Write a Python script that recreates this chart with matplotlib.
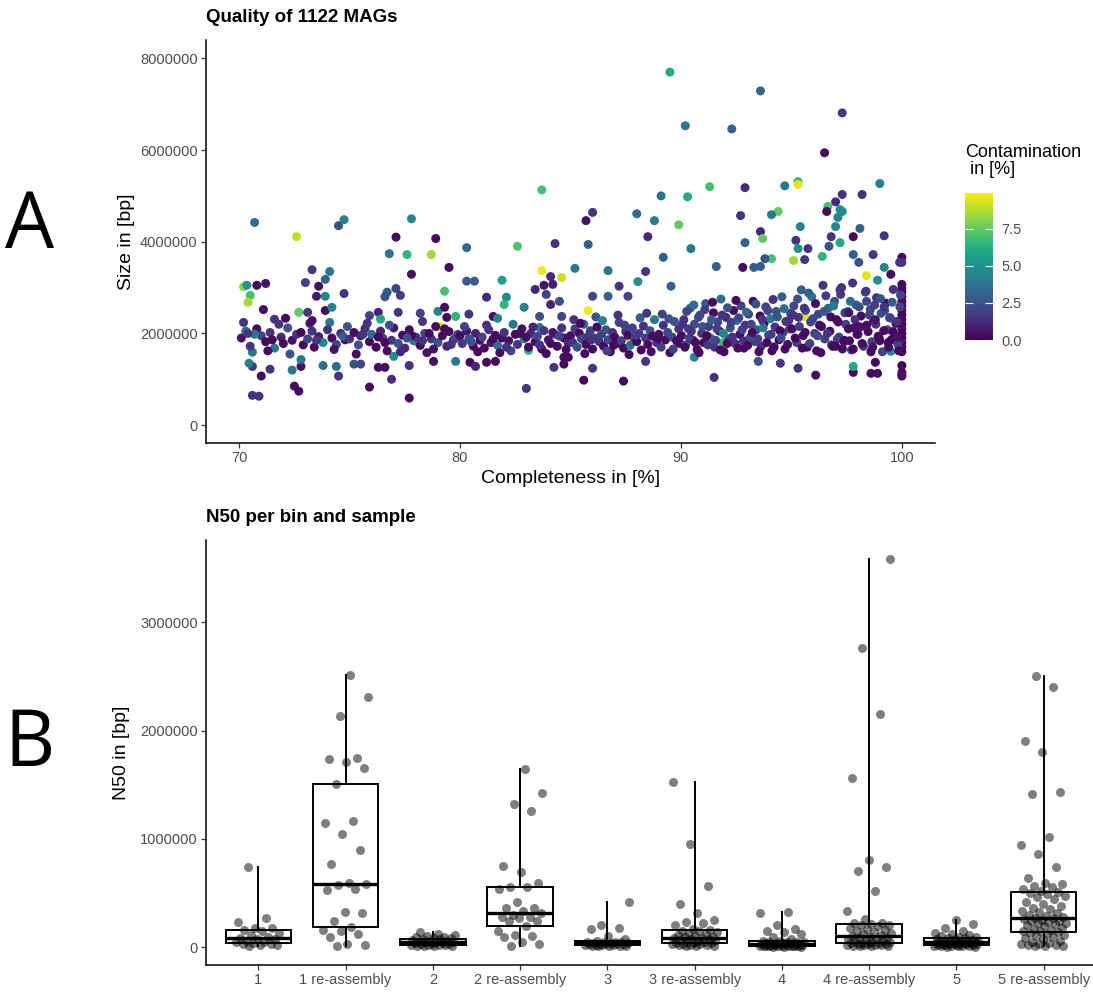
import numpy as np
import matplotlib.pyplot as plt
from matplotlib.ticker import FuncFormatter

plt.rcParams['font.family'] = ['Liberation Sans', 'DejaVu Sans']

# ---------------- panel A: completeness [%], size [Mbp], contamination [%]
# one line per chunk, same order in all three lists
completeness = [
    70.7,72.6,74.5,74.75,77.8,77.1,78.9,83.7,84.3,82.6,80.3,76.8,77.6,78.7,79.5,77.8,83.7,84.6,73.3,74.1,
    73.9,73.0,71.2,70.8,70.2,70.35,70.5,70.4,73.6,73.5,73.9,74.75,77.1,76.7,76.6,77.3,79.3,81.2,82.1,82.0,
    81.9,80.3,80.65,83.4,83.8,84.1,84.2,83.9,84.1,84.5,82.9,71.1,72.7,73.1,73.9,74.2,70.2,71.6,72.1,73.2,
    73.3,74.1,75.9,76.3,76.4,77.2,78.2,78.3,79.0,79.3,79.4,79.8,80.4,81.5,81.7,83.6,83.6,84.6,75.7,79.1,
    70.6,70.9,72.7,72.5,71.0,71.4,72.4,72.8,72.8,70.6,70.45,70.6,73.8,74.4,74.5,75.2,75.5,75.9,76.3,76.6,76.9,77.7,77.7,77.0,78.1,78.8,79.8,80.45,80.7,81.2,81.6,83.0,84.25,84.7,83.1,
    89.5,93.6,90.2,92.3,97.3,96.5,91.3,92.9,94.7,95.3,95.3,99.0,89.1,90.3,97.3,98.2,97.0,96.65,96.6,97.2,
    97.3,94.4,94.1,92.7,85.7,86.0,88.0,88.8,89.9,97.1,97.0,95.4,93.6,93.7,92.9,85.8,88.5,98.1,97.8,99.2,
    90.45,95.2,95.3,95.75,96.8,96.7,97.2,89.2,96.4,94.1,95.1,95.6,91.6,85.2,86.7,88.4,97.8,98.05,98.7,99.2,
    100.0,99.9,100.0,99.5,98.4,98.9,92.8,93.3,93.6,93.8,88.05,87.2,89.55,86.0,86.7,87.6,
    85.6,87.4,91.5,96.1,97.8,97.8,98.6,98.9,98.8,95.3,94.5,93.5,86.0,88.4,84.7,84.9,90.6,91.9,94.2,99.5,85.8,86.9,87.6,95.6,97.6,
    100.0,100.0,100.0,100.0,100.0,100.0,100.0,100.0,100.0,100.0,100.0,100.0,100.0,100.0,100.0,100.0,100.0,100.0,100.0,100.0,
    70.1,70.3,70.5,70.8,71.0,71.2,71.4,71.6,71.9,72.0,72.2,72.4,72.6,72.9,73.1,73.3,73.4,73.6,73.8,74.0,74.2,74.4,74.6,74.8,74.9,70.7,71.3,71.8,72.3,72.8,73.5,74.3,74.7,70.4,71.5,
    75.0,75.2,75.4,75.5,75.7,75.9,76.0,76.2,76.4,76.5,76.7,76.9,77.0,77.2,77.4,77.5,77.7,77.9,78.0,78.2,78.4,78.5,78.7,78.9,79.0,79.2,79.4,79.5,79.7,79.9,75.3,75.8,76.3,76.8,77.3,77.8,78.3,78.8,79.3,79.8,75.6,76.6,77.6,78.6,79.6,
    80.0,80.1,80.3,80.4,80.6,80.7,80.9,81.0,81.1,81.3,81.4,81.6,81.7,81.9,82.0,82.2,82.3,82.5,82.6,82.8,82.9,83.1,83.2,83.4,83.5,83.7,83.8,84.0,84.1,84.3,84.4,84.6,84.7,84.9,80.2,80.8,81.2,81.8,82.4,83.0,83.6,84.2,84.8,80.5,81.5,82.1,82.7,83.3,83.9,84.5,
    85.0,85.1,85.2,85.3,85.4,85.5,85.6,85.7,85.8,85.9,86.0,86.1,86.2,86.3,86.4,86.5,86.6,86.7,86.8,86.9,87.0,87.1,87.2,87.3,87.4,87.5,87.6,87.7,87.8,87.9,88.0,88.1,88.2,88.3,88.4,88.5,88.6,88.7,88.8,88.9,89.0,89.1,89.2,89.3,89.4,89.5,89.6,89.7,89.8,89.9,85.15,85.65,86.15,86.65,87.15,87.65,88.15,88.65,89.15,89.65,85.45,85.95,86.45,86.95,87.45,87.95,88.45,88.95,89.45,89.95,
    90.02,90.13,90.21,90.34,90.42,90.55,90.61,90.73,90.86,90.94,91.03,91.12,91.25,91.33,91.47,91.52,91.66,91.74,91.81,91.95,92.04,92.16,92.23,92.38,92.45,92.53,92.67,92.72,92.85,92.91,93.06,93.14,93.27,93.35,93.42,93.58,93.63,93.76,93.84,93.97,94.05,94.12,94.26,94.31,94.44,94.57,94.62,94.75,94.83,94.96,
    90.07,90.18,90.26,90.39,90.47,90.58,90.66,90.79,90.82,90.98,91.08,91.17,91.22,91.38,91.43,91.57,91.63,91.78,91.86,91.92,92.09,92.11,92.27,92.33,92.49,92.58,92.62,92.77,92.83,92.97,93.02,93.18,93.23,93.39,93.48,93.53,93.68,93.72,93.89,93.93,94.08,94.17,94.22,94.36,94.48,94.53,94.67,94.71,94.88,94.92,
    95.03,95.11,95.24,95.32,95.45,95.53,95.64,95.71,95.87,95.92,96.05,96.14,96.22,96.36,96.43,96.51,96.67,96.74,96.82,96.95,97.04,97.16,97.23,97.31,97.46,97.55,97.63,97.77,97.84,97.93,98.02,98.15,98.26,98.34,98.41,98.57,98.64,98.72,98.85,98.93,99.06,99.12,99.27,99.35,99.44,99.52,99.61,99.73,99.82,99.91,
    95.08,95.17,95.28,95.36,95.49,95.58,95.62,95.78,95.83,95.97,96.09,96.18,96.27,96.33,96.48,96.56,96.63,96.78,96.87,96.91,97.08,97.12,97.27,97.38,97.42,97.58,97.67,97.72,97.88,97.97,98.07,98.12,98.22,98.38,98.47,98.53,98.68,98.77,98.82,98.97,99.03,99.18,99.22,99.38,99.47,99.56,99.68,99.77,99.86,99.94,
    97.0,97.2,97.4,97.6,97.8,98.0,98.2,98.4,98.6,98.8,99.0,99.2,99.4,99.6,99.8,
]
size_mb = [
    4.42,4.11,4.35,4.48,4.5,4.1,4.07,5.13,3.96,3.9,3.87,3.74,3.72,3.72,3.44,3.29,3.37,3.22,3.39,3.35,
    3.18,3.11,3.09,3.05,3.02,3.05,2.83,2.68,3.03,2.81,2.81,2.87,2.98,2.9,2.8,2.83,2.92,2.79,2.79,2.63,
    3.16,3.14,3.14,2.96,3.05,3.24,3.07,2.85,2.63,2.7,2.57,2.52,2.46,2.46,2.5,2.57,2.24,2.31,2.33,2.22,
    2.28,2.24,2.39,2.46,2.31,2.46,2.44,2.26,2.48,2.57,2.35,2.37,2.42,2.37,2.33,2.37,2.13,2.37,2.13,2.15,
    0.65,0.63,0.74,0.85,1.07,1.22,1.2,1.28,1.43,1.28,1.35,1.59,1.3,1.28,1.07,1.33,1.33,0.83,1.26,1.26,1.0,1.3,0.59,1.5,1.8,1.39,1.39,1.37,1.28,1.37,1.39,0.8,1.26,1.48,1.63,
    7.7,7.29,6.53,6.46,6.81,5.94,5.2,5.18,5.22,5.31,5.25,5.27,5.0,4.98,5.03,5.03,4.87,4.77,4.66,4.7,
    4.66,4.66,4.59,4.57,4.46,4.64,4.61,4.46,4.37,4.53,4.33,4.33,4.22,4.07,3.98,3.94,4.11,4.29,4.11,4.13,
    3.85,4.03,3.85,3.85,4.11,3.9,3.98,3.66,3.68,3.63,3.59,3.61,3.46,3.42,3.37,3.35,3.72,3.55,3.72,3.44,
    3.66,3.55,3.55,3.29,3.26,3.16,3.44,3.44,3.46,3.63,3.13,3.03,3.03,2.81,2.81,2.81,
    0.98,0.96,1.04,1.09,1.15,1.28,1.13,1.13,1.37,1.24,1.35,1.39,1.24,1.39,1.33,1.48,1.48,1.8,1.72,1.61,2.5,2.0,1.91,2.37,2.13,
    3.07,2.98,2.9,2.8,2.7,2.6,2.5,2.4,2.3,2.2,2.1,2.0,1.9,1.8,1.7,1.6,1.3,1.15,1.07,1.1,
    1.90,2.05,1.72,2.10,1.95,1.82,2.02,1.68,1.92,1.78,2.12,1.85,1.98,1.75,1.88,2.05,1.70,1.93,1.80,2.08,1.90,1.76,2.00,1.86,2.15,1.98,1.62,2.20,1.55,2.02,1.85,1.65,1.94,2.00,1.86,
    1.88,2.02,1.75,1.95,2.10,1.82,1.98,1.70,2.05,1.90,1.62,1.85,2.12,1.78,1.96,1.68,2.08,1.84,1.92,1.74,2.00,1.58,1.88,2.15,1.80,1.95,1.72,2.04,1.86,1.98,1.55,2.22,1.92,2.18,1.60,1.96,1.84,1.66,2.10,1.90,1.98,1.80,1.90,2.00,1.76,
    1.95,1.78,2.05,1.88,1.72,2.00,1.85,1.92,1.68,2.08,1.80,1.96,1.74,1.90,2.02,1.84,1.62,1.98,1.76,2.10,1.88,1.70,2.00,1.82,1.94,1.66,2.06,1.86,1.78,1.98,1.72,2.12,1.90,1.80,2.15,1.60,2.18,1.58,2.20,1.92,1.75,2.02,1.65,1.82,1.88,1.70,2.00,2.14,1.56,1.94,
    1.95,1.80,2.10,1.70,2.00,1.88,2.20,1.76,1.94,2.06,1.66,1.90,2.14,1.82,1.98,1.72,2.08,1.86,1.60,2.02,1.92,1.78,2.24,1.84,1.68,2.04,1.96,1.74,2.12,1.88,1.82,2.00,1.64,2.16,1.90,1.76,2.06,1.94,2.30,1.80,1.98,1.70,2.18,1.86,2.02,1.58,1.92,2.26,1.84,2.10,2.30,1.56,2.36,1.62,2.40,1.54,2.34,1.60,2.42,1.66,2.22,1.86,2.28,1.74,2.18,1.96,2.44,1.88,2.32,1.78,
    1.95,2.30,1.75,2.10,2.55,1.85,2.20,1.65,2.40,2.00,1.80,2.65,2.15,1.90,2.45,1.70,2.25,2.05,2.75,1.60,2.35,1.88,2.12,2.50,1.78,2.28,1.98,2.60,1.68,2.18,2.42,1.92,2.70,1.82,2.08,2.38,1.72,2.22,2.58,1.96,2.32,1.62,2.14,2.48,1.86,2.80,2.02,2.26,1.76,2.44,
    2.20,1.70,2.48,1.90,2.05,2.62,1.80,2.35,1.58,2.15,2.52,1.95,1.75,2.30,2.68,1.85,2.10,1.64,2.40,2.00,1.78,2.56,2.24,1.92,2.72,1.68,2.34,2.08,1.84,2.46,1.74,2.20,2.02,2.64,1.88,1.60,2.30,2.12,1.80,2.50,1.98,2.74,1.70,2.36,2.06,1.90,2.54,1.66,2.28,2.10,
    2.10,2.60,1.80,2.35,2.95,1.95,2.50,1.70,2.25,2.80,2.00,1.62,2.42,2.15,3.05,1.88,2.55,2.05,1.75,2.70,2.30,1.92,2.85,1.66,2.20,2.48,1.84,3.10,2.12,2.62,1.98,2.38,1.72,2.90,2.18,2.52,1.82,2.28,2.78,1.94,2.44,1.60,2.66,2.08,2.34,1.86,2.96,2.22,1.76,2.58,
    2.40,1.90,2.75,2.15,1.68,2.55,2.02,2.88,1.78,2.32,2.65,1.95,2.18,1.58,2.48,2.82,2.00,2.36,1.72,2.60,1.88,2.25,3.00,1.82,2.45,2.10,2.70,1.64,2.30,1.98,2.58,2.14,1.76,2.92,2.04,2.40,1.70,2.62,2.20,1.90,2.76,2.06,2.50,1.80,2.34,2.68,1.96,2.26,1.62,2.84,
    1.72,2.95,1.85,2.45,1.66,2.15,1.78,2.70,1.60,2.30,1.84,2.58,1.70,2.04,1.92,
]
contamination = [
    3.5,9.0,2.5,4.2,4.5,0.3,0.3,7.0,1.5,7.2,3.3,3.8,6.5,8.5,0.2,0.4,9.8,9.2,1.5,4.0,
    3.0,1.8,0.5,0.3,8.2,5.0,7.0,8.5,0.3,0.8,4.5,1.5,2.0,3.0,2.5,1.8,7.0,1.2,4.8,6.5,
    5.5,2.8,2.8,1.0,0.5,1.2,0.8,2.0,1.0,2.5,4.5,0.3,7.5,1.5,0.3,4.5,1.5,1.5,0.2,0.5,
    0.3,4.0,2.0,1.0,6.0,1.5,2.0,1.5,4.5,0.3,0.3,6.5,1.5,0.3,4.5,2.5,4.0,2.0,9.8,9.6,
    1.5,1.5,0.3,0.3,0.3,1.5,4.0,0.5,4.0,1.5,4.5,4.0,3.5,3.5,1.5,2.5,2.0,0.3,0.3,0.3,1.2,1.5,0.2,5.0,7.0,0.3,4.0,0.3,1.0,0.3,0.3,1.5,1.5,0.3,6.5,
    6.0,3.2,4.0,3.0,1.5,0.2,7.0,1.2,4.0,6.5,9.5,4.2,3.8,6.0,1.5,1.5,1.2,7.0,0.2,5.0,
    5.0,7.5,4.0,1.5,0.5,1.5,3.5,4.0,7.5,4.5,4.5,4.5,1.0,7.5,3.2,3.0,1.2,3.0,0.3,1.5,
    4.0,1.5,5.0,1.5,1.5,2.5,6.0,3.0,6.5,7.0,8.5,1.5,3.0,4.0,4.0,1.5,3.0,2.5,1.5,4.5,
    0.3,1.5,1.5,0.3,9.5,5.0,0.3,3.0,3.0,2.5,5.0,1.5,3.0,2.0,3.0,2.0,
    0.3,0.3,1.5,0.3,0.3,6.0,0.3,0.3,0.3,1.5,1.5,2.5,1.5,1.5,0.3,0.3,4.5,7.0,7.0,4.5,9.8,9.8,9.8,9.5,9.5,
    0.2,0.3,0.1,0.4,0.2,0.3,0.5,0.1,0.2,0.3,0.4,0.1,0.2,0.5,0.3,0.2,0.1,0.3,0.2,0.4,
    0.5,3.5,1.5,0.3,2.0,0.3,1.5,4.0,1.0,0.3,2.5,0.5,1.5,0.3,2.0,1.5,0.3,0.8,4.5,1.5,0.3,2.0,1.2,0.5,2.5,4.0,0.3,1.5,2.5,0.3,1.5,0.5,3.0,1.5,0.3,
    1.5,0.3,2.5,0.5,1.5,0.3,3.5,0.3,1.0,2.0,0.3,1.5,0.5,2.5,0.3,1.2,0.3,4.0,1.5,0.3,2.0,0.5,1.5,0.3,2.5,0.3,1.0,0.3,1.5,2.0,0.3,1.5,0.3,2.5,1.0,0.3,1.5,0.5,0.3,2.0,1.5,0.3,2.5,0.3,1.5,
    0.3,1.5,0.5,2.5,0.3,1.0,0.3,2.0,0.3,1.5,0.5,0.3,3.5,0.3,1.5,0.5,2.0,0.3,1.5,0.3,4.5,0.3,1.2,0.3,2.0,0.3,1.5,0.5,0.3,2.5,0.3,1.5,0.3,1.0,2.0,0.3,1.5,0.3,4.0,0.3,1.5,0.5,0.3,2.5,0.3,1.5,0.3,1.0,0.3,2.0,
    0.3,1.5,1.8,2.5,0.3,2.2,3.0,0.3,1.5,1.8,0.3,2.0,0.3,1.5,1.8,0.3,2.5,2.2,0.3,1.5,0.3,0.3,2.0,1.8,0.3,1.5,0.3,3.5,1.8,1.5,0.3,2.0,0.3,1.5,1.8,0.3,2.5,0.3,4.0,1.5,0.3,1.8,1.5,0.3,2.0,0.3,2.2,2.5,0.3,1.5,1.5,0.3,2.5,1.8,1.5,0.3,3.0,0.3,2.0,1.8,0.3,1.5,4.5,0.3,2.0,1.8,1.5,0.3,2.5,0.3,
    0.3,1.5,2.5,1.8,3.0,0.3,2.2,0.3,2.0,1.5,0.3,2.5,1.8,4.0,0.3,1.5,2.0,0.3,3.5,0.3,1.2,1.8,2.5,0.3,1.5,4.5,0.3,2.0,0.3,1.5,1.8,2.5,0.3,2.2,3.0,0.3,1.5,0.3,2.0,1.8,4.0,0.3,1.5,2.5,0.3,3.0,1.8,1.5,0.3,2.0,
    1.5,0.3,2.0,1.8,1.5,3.5,0.3,2.2,0.3,2.5,1.8,0.3,1.5,3.0,0.3,2.0,1.8,0.3,1.5,4.5,0.3,2.5,1.8,1.5,0.3,0.3,2.0,1.8,1.5,3.0,0.3,2.2,0.3,2.5,1.8,0.3,1.5,4.0,0.3,2.0,1.8,1.5,0.3,2.5,0.3,2.2,3.5,0.3,1.5,1.8,
    0.3,2.0,1.8,1.5,3.0,0.3,2.5,0.3,2.2,4.0,1.8,0.3,2.0,0.3,1.5,1.8,3.5,0.3,1.5,2.5,0.3,2.2,1.8,0.3,2.0,4.5,0.3,1.5,0.3,2.5,1.8,0.3,1.5,3.0,0.3,2.0,1.8,0.3,1.5,0.3,2.5,1.8,0.3,2.2,3.5,0.3,1.5,0.3,1.8,2.0,
    1.5,0.3,2.5,1.8,0.3,1.5,0.3,3.0,1.8,2.0,0.3,2.2,0.3,0.3,2.5,1.8,1.5,0.3,0.3,4.0,1.8,0.3,1.5,0.3,2.0,0.3,3.5,1.8,1.5,0.3,2.5,0.3,1.8,1.5,0.3,2.0,0.3,1.8,1.5,0.3,2.5,0.3,2.2,0.3,1.8,3.0,0.3,1.5,0.3,2.0,
    0.3,1.5,0.3,0.5,0.3,0.5,0.3,2.0,0.3,0.5,0.3,1.5,0.3,0.3,0.5,
]

# ---------------- panel B: N50 per bin [Mbp]
samples = ['1', '1 re-assembly', '2', '2 re-assembly', '3', '3 re-assembly',
           '4', '4 re-assembly', '5', '5 re-assembly']
n50_1 = [0.01,0.015,0.02,0.025,0.03,0.035,0.045,0.05,0.06,0.07,0.075,0.085,0.095,0.11,0.13,0.15,0.16,0.175,0.18,0.235,0.27,0.74]
n50_1r = [0.012,0.015,0.025,0.095,0.12,0.15,0.16,0.185,0.24,0.31,0.32,0.53,0.54,0.57,0.58,0.59,0.77,0.9,1.04,1.15,1.16,1.51,1.65,1.71,1.74,1.75,2.13,2.31,2.51]
n50_2 = [0.005,0.008,0.01,0.012,0.015,0.018,0.02,0.022,0.025,0.028,0.03,0.035,0.04,0.042,0.045,0.048,0.05,0.055,0.06,0.065,0.07,0.075,0.08,0.085,0.09,0.095,0.1,0.11,0.12,0.14]
n50_2r = [0.005,0.025,0.05,0.09,0.1,0.11,0.15,0.194,0.24,0.24,0.27,0.28,0.28,0.3,0.314,0.33,0.36,0.36,0.42,0.54,0.55,0.554,0.59,0.69,0.75,1.26,1.32,1.42,1.64]
n50_3 = [0.006,0.008,0.01,0.012,0.014,0.016,0.018,0.02,0.022,0.024,0.026,0.028,0.03,0.032,0.035,0.038,0.04,0.042,0.045,0.048,0.05,0.06,0.07,0.1,0.17,0.18,0.2,0.42]
n50_3r = [0.005,0.008,0.01,0.015,0.02,0.022,0.025,0.028,0.03,0.034,0.037,0.04,0.045,0.05,0.055,0.06,0.065,0.07,0.075,0.08,0.083,
          0.09,0.095,0.1,0.11,0.12,0.13,0.14,0.145,0.15,0.157,0.17,0.2,0.22,0.23,0.25,0.31,0.4,0.56,0.95,1.52]
n50_4 = [0.002,0.003,0.004,0.005,0.006,0.007,0.008,0.009,0.01,0.011,0.012,0.013,0.014,0.015,0.016,0.018,0.02,0.022,0.024,0.026,
         0.028,0.03,0.032,0.034,0.036,0.038,0.04,0.042,0.045,0.048,0.05,0.055,0.06,0.07,0.09,0.12,0.14,0.15,0.17,0.2,0.31,0.32]
n50_4r = [0.005,0.008,0.01,0.012,0.015,0.018,0.02,0.022,0.025,0.028,0.03,0.034,0.037,0.04,0.045,0.05,0.055,0.06,0.065,0.07,0.075,0.08,0.085,0.09,0.1,
          0.11,0.12,0.13,0.14,0.15,0.16,0.17,0.18,0.19,0.2,0.205,0.212,0.22,0.22,0.26,0.33,0.52,0.7,0.74,0.8,1.56,2.15,2.76,3.58]
n50_5 = [0.003,0.004,0.005,0.006,0.008,0.01,0.012,0.014,0.016,0.018,0.02,0.022,0.024,0.026,0.028,0.03,0.032,0.034,0.036,0.038,0.04,0.042,0.044,
         0.046,0.048,0.05,0.052,0.055,0.058,0.06,0.065,0.07,0.075,0.08,0.085,0.09,0.095,0.1,0.11,0.12,0.13,0.15,0.18,0.21,0.25]
n50_5r = [0.005,0.008,0.01,0.015,0.02,0.025,0.03,0.04,0.05,0.06,0.07,0.08,0.09,0.1,0.11,0.12,0.13,0.138,
          0.145,0.15,0.16,0.17,0.18,0.19,0.2,0.21,0.22,0.225,0.23,0.24,0.245,0.25,0.26,0.265,0.27,
          0.28,0.29,0.3,0.31,0.32,0.33,0.35,0.36,0.38,0.4,0.42,0.44,0.46,0.47,0.49,0.5,0.508,
          0.52,0.54,0.55,0.56,0.58,0.59,0.64,0.74,0.86,0.94,1.02,1.41,1.43,1.8,1.9,2.4,2.5]
n50_groups = [n50_1, n50_1r, n50_2, n50_2r, n50_3, n50_3r, n50_4, n50_4r, n50_5, n50_5r]

W, H = 1093, 992
GREY = '#4D4D4D'

def style(ax):
    for s in ['top', 'right']:
        ax.spines[s].set_visible(False)
    for s in ['left', 'bottom']:
        ax.spines[s].set_linewidth(1.1)
    ax.tick_params(length=3.5, width=0.9, color='#333333', labelsize=10.5,
                   labelcolor=GREY, pad=2.5)
    ax.yaxis.set_major_formatter(FuncFormatter(lambda v, p: f'{v:.0f}'))

fig = plt.figure(figsize=(W / 100, H / 100), dpi=100)

# panel A
ax1 = fig.add_axes([206 / W, 1 - 443 / H, 729 / W, 403 / H])
sc = ax1.scatter(completeness, np.array(size_mb) * 1e6, c=contamination, cmap='viridis',
                 vmin=0, vmax=9.93, s=42, linewidths=0)
ax1.set_xlim(68.5, 101.5)
ax1.set_ylim(-390000, 8.4e6)
ax1.set_xticks([70, 80, 90, 100])
ax1.set_yticks([0, 2e6, 4e6, 6e6, 8e6])
style(ax1)
ax1.set_xlabel('Completeness in [%]', fontsize=14)
ax1.set_ylabel('Size in [bp]', fontsize=14)
ax1.xaxis.set_label_coords(0.5, -0.068)
ax1.yaxis.set_label_coords(-0.097, 0.5)
fig.text(206 / W, 1 - 18 / H, 'Quality of 1122 MAGs', fontsize=13.5,
         fontweight='bold', va='center')

cax = fig.add_axes([965 / W, 1 - 340 / H, 28 / W, 147 / H])
cb = fig.colorbar(sc, cax=cax, ticks=[0, 2.5, 5, 7.5])
cb.outline.set_visible(False)
cb.ax.set_yticklabels(['0.0', '2.5', '5.0', '7.5'])
cax.tick_params(direction='in', color='white', length=5.5, width=0.8,
                left=True, right=True, labelsize=10.5, labelcolor=GREY, pad=6)
fig.text(965 / W, 1 - 144 / H, 'Contamination\n in [%]', fontsize=13,
         va='top', ha='left', linespacing=1.0)

# panel B
ax2 = fig.add_axes([206 / W, 1 - 965 / H, 890 / W, 425 / H])
pos = np.arange(1, len(samples) + 1)
vals_bp = [np.array(g) * 1e6 for g in n50_groups]
ax2.boxplot(vals_bp, positions=pos, widths=0.75, whis=(0, 100), showcaps=False,
            showfliers=False, patch_artist=True,
            boxprops=dict(facecolor='white', edgecolor='black', linewidth=1.4),
            medianprops=dict(color='black', linewidth=2.4),
            whiskerprops=dict(color='black', linewidth=1.4), zorder=1)
for p, v in zip(pos, vals_bp):
    jit = ((np.arange(len(v)) * 0.618034 + 0.3) % 1 - 0.5) * 0.52
    ax2.scatter(p + jit, v, s=42, color='black', alpha=0.5, linewidths=0, zorder=3)
ax2.set_xlim(0.4, 10.6)
ax2.set_ylim(-166000, 3.76e6)
ax2.set_xticks(pos)
ax2.set_xticklabels(samples)
ax2.set_yticks([0, 1e6, 2e6, 3e6])
style(ax2)
ax2.set_ylabel('N50 in [bp]', fontsize=14)
ax2.yaxis.set_label_coords(-0.085, 0.5)
fig.text(206 / W, 1 - 517 / H, 'N50 per bin and sample', fontsize=13.5,
         fontweight='bold', va='center')

fig.text(30 / W, 1 - 228 / H, 'A', fontsize=56, ha='center', va='center',
         family=['Open Sans', 'DejaVu Sans'])
fig.text(30 / W, 1 - 745 / H, 'B', fontsize=56, ha='center', va='center',
         family=['Open Sans', 'DejaVu Sans'])

fig.savefig('out.png', dpi=100)
